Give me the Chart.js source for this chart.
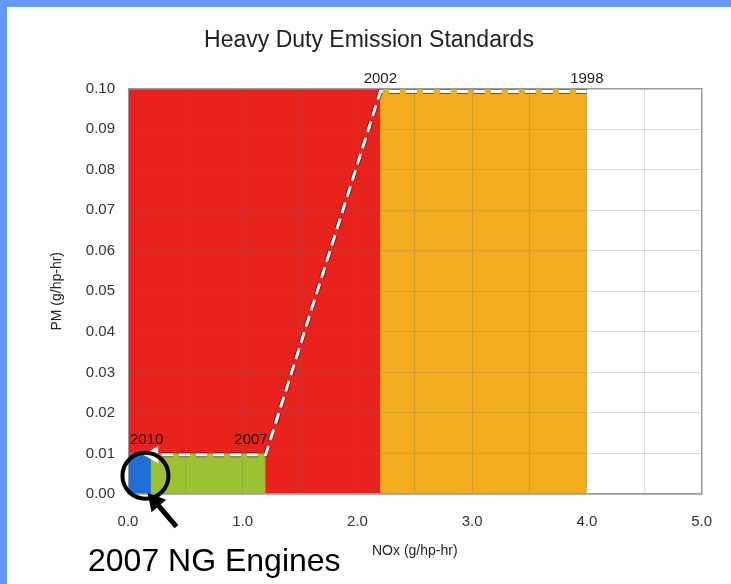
<!DOCTYPE html>
<html>
<head>
<meta charset="utf-8">
<script src="https://cdn.jsdelivr.net/npm/chart.js@4"></script>
<style>
  html, body { margin: 0; padding: 0; }
  body { background: #6699ff; width: 731px; height: 584px; overflow: hidden; }
  #box { position: absolute; left: 7px; top: 7px; width: 724px; height: 577px; background: #fff; }
</style>
</head>
<body>
<div id="box"><canvas id="emissionChart"></canvas></div>
<script>
// standards: NOx limit and PM limit for each model year
const years = ['2010', '2007', '2002', '1998'];
const noxLimits = [0.2, 1.2, 2.2, 4.0];
const pmLimits = [0.01, 0.01, 0.1, 0.1];
const yearColors = ['#1f6fd6', '#9bc232', '#e8221d', '#f3ad1c'];

// dashed path of tightening standards (1998 -> 2010)
const pathNox = [4.0, 2.2, 1.2, 0.22];
const pmPath = [0.0993, 0.0993, 0.0097, 0.0097];

const xTicks = [0, 1, 2, 3, 4, 5];
const noteText = '2007 NG Engines';

function toPoints(xs, ys) {
    return xs.map((x, i) => ({ x: x, y: ys[i] }));
}

// path datasets go first so they are drawn on top
let datasets = [];
const pathPoints = toPoints(pathNox, pmPath);
datasets.push({
    data: pathPoints,
    borderColor: '#ffffff',
    borderWidth: 3,
    borderDash: [11, 6],
    fill: false,
    pointRadius: pathPoints.map((p, i) => i === pathPoints.length - 1 ? 7 : 0),
    pointStyle: 'triangle',
    rotation: 270,
    pointBackgroundColor: '#ffffff',
    pointBorderColor: '#ffffff'
});
datasets.push({
    data: pathPoints,
    borderColor: 'rgba(70,20,10,0.6)',
    borderWidth: 5,
    borderDash: [11, 6],
    fill: false,
    pointRadius: 0
});
years.forEach((yr, i) => {
    datasets.push({
        label: yr,
        data: [{ x: 0, y: pmLimits[i] }, { x: noxLimits[i], y: pmLimits[i] }],
        backgroundColor: yearColors[i],
        borderWidth: 0,
        pointRadius: 0,
        fill: 'origin'
    });
});

const notes = {
    id: 'notes',
    afterDraw(chart) {
        const c = chart.ctx;
        const xs = chart.scales.x, ys = chart.scales.y;
        c.save();
        // year labels at the corners of each standard
        c.font = '15px "Liberation Sans", Arial, sans-serif';
        c.textBaseline = 'alphabetic';
        years.forEach((yr, i) => {
            const px = xs.getPixelForValue(noxLimits[i]);
            const py = ys.getPixelForValue(pmLimits[i]);
            if (pmLimits[i] >= 0.1) {
                c.fillStyle = '#222';
                c.textAlign = 'center';
                c.fillText(yr, px, py - 6);
            } else if (i === 0) {
                c.fillStyle = '#2a0505';
                c.textAlign = 'left';
                c.fillText(yr, xs.getPixelForValue(0) + 2, py - 9);
            } else {
                c.fillStyle = '#2a0505';
                c.textAlign = 'right';
                c.fillText(yr, px + 2, py - 9);
            }
        });

        // circle round the 2010 box
        const cx = xs.getPixelForValue(noxLimits[0] / 2);
        const cy = ys.getPixelForValue(pmLimits[0] / 2);
        c.strokeStyle = '#000';
        c.lineWidth = 4;
        c.beginPath();
        c.arc(cx + 6, cy + 2, 23, 0, Math.PI * 2);
        c.stroke();

        // arrow pointing at it
        const tipX = cx + 8, tipY = cy + 19;
        const tailX = tipX + 29, tailY = tipY + 34;
        const ang = Math.atan2(tipY - tailY, tipX - tailX);
        c.lineWidth = 5;
        c.beginPath();
        c.moveTo(tailX, tailY);
        c.lineTo(tipX - Math.cos(ang) * 8, tipY - Math.sin(ang) * 8);
        c.stroke();
        c.fillStyle = '#000';
        c.beginPath();
        c.moveTo(tipX, tipY);
        c.lineTo(tipX - 20 * Math.cos(ang - 0.5), tipY - 20 * Math.sin(ang - 0.5));
        c.lineTo(tipX - 20 * Math.cos(ang + 0.5), tipY - 20 * Math.sin(ang + 0.5));
        c.closePath();
        c.fill();

        // note below the axis
        c.font = '32px "Liberation Sans", Arial, sans-serif';
        c.textAlign = 'left';
        c.fillStyle = '#000';
        c.fillText(noteText, 81, 564);
        c.restore();
    }
};

const gridColor = 'rgba(110,110,110,0.25)';

let emissionChart = new Chart(document.getElementById('emissionChart'), {
    type: 'line',
    data: { datasets: datasets },
    plugins: [notes],
    options: {
        responsive: true,
        maintainAspectRatio: false,
        animation: false,
        layout: { padding: 0 },
        plugins: {
            legend: { display: false },
            tooltip: { enabled: false },
            title: {
                display: true,
                text: 'Heavy Duty Emission Standards',
                color: '#222',
                font: { family: '"Liberation Sans", Arial, sans-serif', size: 23, weight: 'normal' },
                padding: { top: 20, bottom: 34 }
            }
        },
        scales: {
            x: {
                type: 'linear',
                min: 0,
                max: 5,
                afterFit: s => { s.height = 90; },
                grid: { color: gridColor, drawTicks: false, z: 1 },
                border: { color: '#9a9a9a', width: 1.5, z: 1 },
                ticks: {
                    stepSize: 0.5,
                    autoSkip: false,
                    maxRotation: 0,
                    padding: 19,
                    color: '#333',
                    font: { family: '"Liberation Sans", Arial, sans-serif', size: 15 },
                    callback: v => xTicks.includes(v) ? v.toFixed(1) : ''
                },
                title: {
                    display: true,
                    text: 'NOx (g/hp-hr)',
                    color: '#222',
                    font: { family: '"Liberation Sans", Arial, sans-serif', size: 14 },
                    padding: { bottom: 24 }
                }
            },
            y: {
                min: 0,
                max: 0.1,
                afterFit: s => { s.width = 121; },
                grid: {
                    drawTicks: false,
                    z: 1,
                    color: ctx => Math.abs(ctx.tick.value - 0.1) < 1e-9 ? '#9a9a9a' : gridColor,
                    lineWidth: ctx => Math.abs(ctx.tick.value - 0.1) < 1e-9 ? 1.5 : 1
                },
                border: { color: '#9a9a9a', z: 1 },
                ticks: {
                    stepSize: 0.01,
                    autoSkip: false,
                    padding: 13,
                    color: '#333',
                    font: { family: '"Liberation Sans", Arial, sans-serif', size: 15 },
                    callback: v => v.toFixed(2)
                },
                title: {
                    display: true,
                    text: 'PM (g/hp-hr)',
                    color: '#222',
                    font: { family: '"Liberation Sans", Arial, sans-serif', size: 14 },
                    padding: { top: 42 }
                }
            },
            y2: {
                position: 'right',
                min: 0,
                max: 0.1,
                afterFit: s => { s.width = 28; },
                grid: { drawOnChartArea: false, drawTicks: false },
                border: { color: '#9a9a9a', width: 1.5, z: 1 },
                ticks: { display: false }
            }
        }
    }
});
</script>
</body>
</html>
